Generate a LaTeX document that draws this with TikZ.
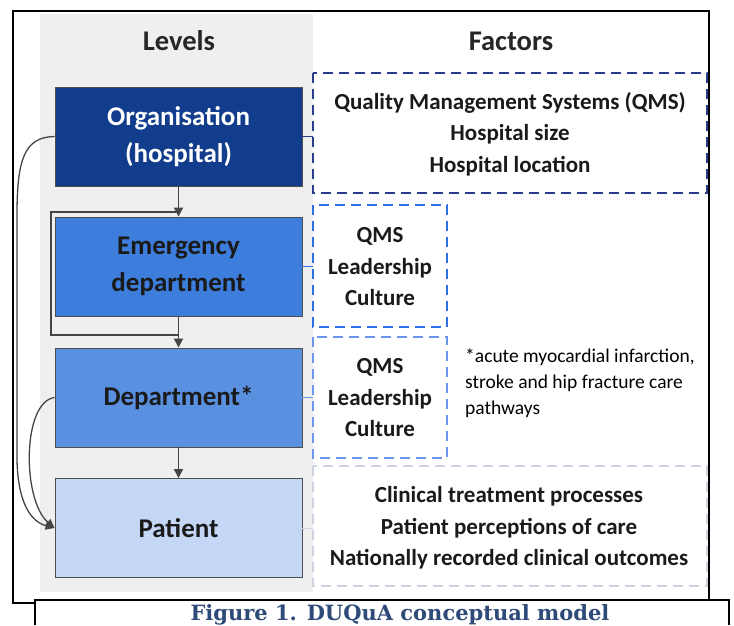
\documentclass[tikz,border=0pt]{standalone}
\usepackage{fontspec}
\setmainfont{Carlito}
\newfontfamily\capfont{DejaVu Serif}
\usetikzlibrary{arrows.meta}
\definecolor{orgblue}{HTML}{113D8C}
\definecolor{emblue}{HTML}{3D7DDB}
\definecolor{depblue}{HTML}{5A90E0}
\definecolor{patblue}{HTML}{C4D7F4}
\definecolor{boxline}{HTML}{4D4D4D}
\definecolor{arrowgray}{HTML}{454545}
\definecolor{colgray}{HTML}{EFEFEF}
\definecolor{capblue}{HTML}{2E4A78}
\definecolor{dashorg}{HTML}{2B3D8A}
\definecolor{dashem}{HTML}{2F6FE8}
\definecolor{dashdep}{HTML}{6C96EE}
\definecolor{dashpat}{HTML}{CDD3E0}
\definecolor{txt}{HTML}{1A1A1A}
\tikzset{
  level/.style={draw=boxline, line width=0.9pt, minimum width=247, minimum height=99,
    align=center, font=\fontsize{27}{37}\selectfont\bfseries, text=txt},
  factorbox/.style={dash pattern=on 10pt off 6pt, line width=1.2pt},
  factortext/.style={align=center, font=\fontsize{23}{31.5}\selectfont\bfseries, text=txt},
  header/.style={font=\fontsize{28.5}{30}\selectfont\bfseries, text=black!85},
  arr/.style={draw=arrowgray, line width=1.8pt, -{Triangle[length=9pt,width=9pt]}},
  tick/.style={line width=1pt}
}
\begin{document}
\begin{tikzpicture}[x=1pt,y=-1pt]
\useasboundingbox (0,0) rectangle (734,625);
\fill[white] (0,0) rectangle (734,625);
% light column behind the levels
\fill[colgray] (40,14) rectangle (313,592);
% outer frame
\draw[black, line width=1.6pt] (13,11) rectangle (709,603);

% headers
\node[header] (hlev) at (179,41) {Levels};
\node[header] (hfac) at (511,41) {Factors};

% level boxes
\node[level, fill=orgblue, text=white] (org) at (178.5,136.5) {Organisation\\(hospital)};
\node[level, fill=emblue] (em) at (178.5,266.5) {Emergency\\department};
\node[level, fill=depblue] (dep) at (178.5,397.5) {Department*};
\node[level, fill=patblue] (pat) at (178.5,528) {Patient};

% factor boxes
\draw[factorbox, draw=dashorg] (313,73) rectangle (707,193);
\node[factortext] (forg) at (510,134) {Quality Management Systems (QMS)\\Hospital size\\Hospital location};
\draw[factorbox, draw=dashem, line width=1.3pt] (313,205) rectangle (447,327);
\node[factortext] (fem) at (380,267) {QMS\\Leadership\\Culture};
\draw[factorbox, draw=dashdep, line width=1.3pt] (313,337) rectangle (447,458);
\node[factortext] (fdep) at (380,398) {QMS\\Leadership\\Culture};
\draw[factorbox, draw=dashpat, line width=1.2pt] (313,466) rectangle (707,586);
\node[factortext] (fpat) at (509,528) {Clinical treatment processes\\Patient perceptions of care\\Nationally recorded clinical outcomes};

% footnote
\node[anchor=north west, align=left, inner sep=0pt, font=\fontsize{19.5}{26}\selectfont, text=black] (note) at (465,348)
  {*acute myocardial infarction,\\stroke and hip fracture care\\pathways};

% links from levels to their factor boxes
\draw[tick, draw=dashorg] (org.east) -- (313,136.5);
\draw[tick, draw=dashem] (em.east) -- (313,266.5);
\draw[tick, draw=dashdep] (dep.east) -- (313,397.5);
\draw[tick, draw=dashpat] (pat.east) -- (313,528);

% downward arrows between levels
\draw[arr] (org.south) -- (em.north);
\draw[arr] (em.south) -- (dep.north);
\draw[arr] (dep.south) -- (pat.north);
% bypass from organisation to department around the emergency box
\coordinate (ka) at (51,212);
\coordinate (kb) at (51,335);
\draw[draw=arrowgray, line width=1.8pt] (org.south |- ka) -- (ka) -- (kb) -- (kb -| dep.north);

% curved links into the patient level
\draw[draw=arrowgray, line width=1.3pt, -{Triangle[length=9pt,width=8pt]}]
  (org.west) .. controls (24,137) and (17,160) .. (17,215) -- (17,460)
  .. controls (18,505) and (32,522) .. (pat.west);
\draw[draw=arrowgray, line width=1.3pt, -{Triangle[length=9pt,width=8pt]}]
  (dep.west) .. controls (22,402) and (22,500) .. (pat.west);

% caption
\fill[white] (35,600) rectangle (729,625);
\draw[black, line width=1.6pt] (35,625) -- (35,600) -- (729,600) -- (729,625);
\node[font=\capfont\fontsize{21}{24}\selectfont\bfseries, text=capblue] (cap) at (400,615)
  {Figure 1. DUQuA conceptual model};
\end{tikzpicture}
\end{document}
